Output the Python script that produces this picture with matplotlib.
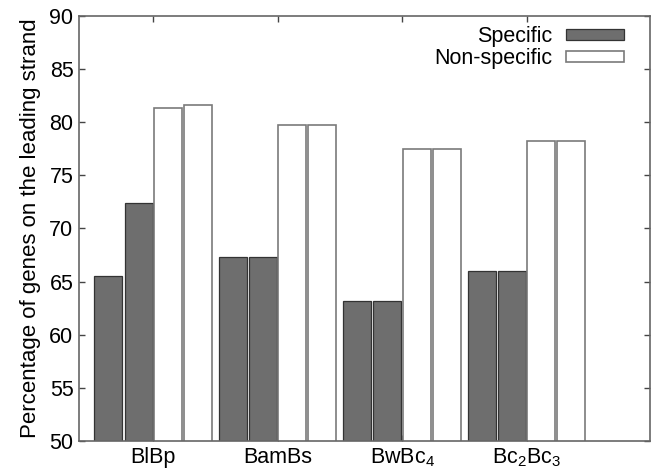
import numpy as np
import matplotlib
matplotlib.use("Agg")
import matplotlib.pyplot as plt

plt.rcParams['font.family'] = ['Liberation Sans', 'DejaVu Sans']
plt.rcParams['mathtext.fontset'] = 'custom'
plt.rcParams['mathtext.rm'] = 'Liberation Sans'

# data
groups = ["BlBp", "BamBs", r"BwBc$\mathregular{_4}$", r"Bc$\mathregular{_2}$Bc$\mathregular{_3}$"]
specific_a = [65.5, 67.3, 63.2, 66.0]
specific_b = [72.4, 67.3, 63.2, 66.0]
nonspec_a = [81.3, 79.7, 77.5, 78.2]
nonspec_b = [81.6, 79.7, 77.5, 78.2]
yticks = [50, 55, 60, 65, 70, 75, 80, 85, 90]

fig = plt.figure(figsize=(6.51, 4.73), dpi=100)
ax = fig.add_axes([0.1214, 0.0677, 0.8763, 0.8985])

x = np.arange(len(groups))
w = 0.225
dark = "#6e6e6e"
spec_kw = dict(width=w, bottom=0, color=dark, edgecolor="#333333", linewidth=0.9, zorder=2)
non_kw = dict(width=w, color="white", edgecolor="#7a7a7a", linewidth=1.2, zorder=2)

ax.bar(x - 0.362, specific_a, label="Specific", **spec_kw)
ax.bar(x - 0.119, specific_b, **spec_kw)
ax.bar(x + 0.117, nonspec_a, label="Non-specific", **non_kw)
ax.bar(x + 0.358, nonspec_b, **non_kw)

ax.set_xlim(-0.597, 3.986)
ax.set_ylim(50, 90)
ax.set_yticks(yticks)
ax.set_xticks(x)
ax.set_xticklabels(groups)
ax.tick_params(direction="in", length=4, width=1, color="#444444", labelsize=15.5,
               top=True, right=True, pad=4)
ax.set_ylabel("Percentage of genes on the leading strand", fontsize=16, labelpad=6)
for s in ax.spines.values():
    s.set_color("#666666")
    s.set_linewidth(1.2)
    s.set_zorder(3)

leg = ax.legend(loc="upper right", bbox_to_anchor=(0.955, 0.976), markerfirst=False,
                frameon=True, fancybox=False, edgecolor="none", framealpha=1,
                fontsize=15.5, handlelength=2.7, handleheight=0.45, handletextpad=0.6,
                labelspacing=0.05, borderpad=0.0, borderaxespad=0.0)

fig.savefig("out.png", dpi=100)
